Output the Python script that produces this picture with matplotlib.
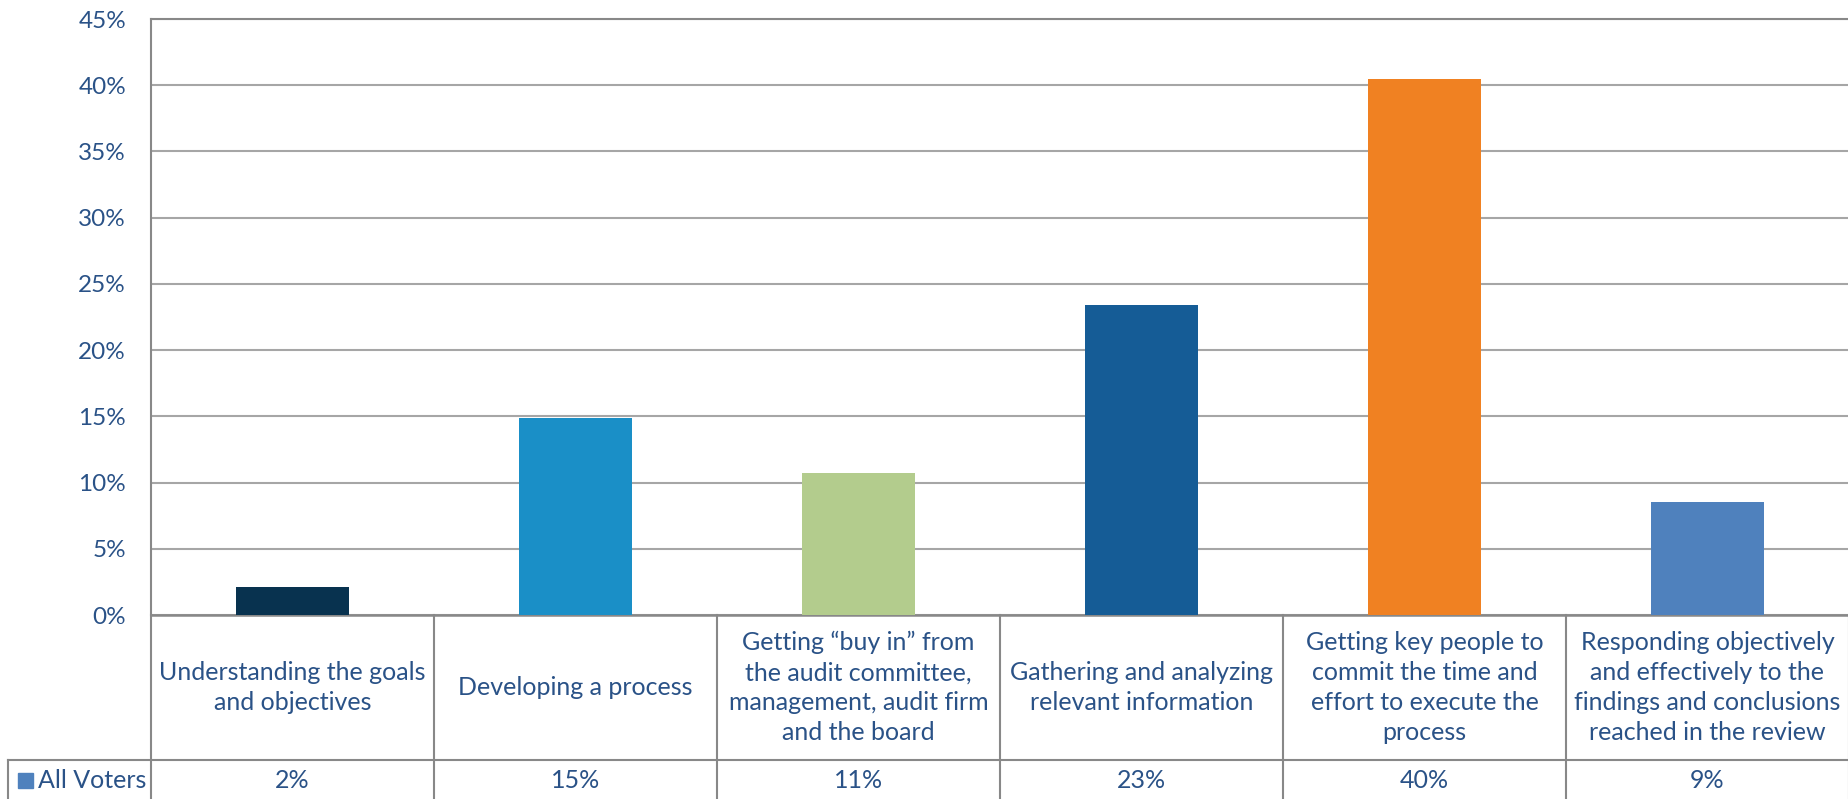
import numpy as np
import matplotlib
matplotlib.use("Agg")
import matplotlib.pyplot as plt
from matplotlib.patches import Rectangle

# data
categories = [
    "Understanding the goals\nand objectives",
    "Developing a process",
    "Getting \u201cbuy in\u201d from\nthe audit committee,\nmanagement, audit firm\nand the board",
    "Gathering and analyzing\nrelevant information",
    "Getting key people to\ncommit the time and\neffort to execute the\nprocess",
    "Responding objectively\nand effectively to the\nfindings and conclusions\nreached in the review",
]
values = [2.1, 14.9, 10.7, 23.4, 40.5, 8.5]
value_labels = ["2%", "15%", "11%", "23%", "40%", "9%"]
bar_colors = ["#08324F", "#1A8FC7", "#B3CC8D", "#155C96", "#F08122", "#4F81BD"]
series_name = "All Voters"
series_color = "#4F81BD"
yticks = [0, 5, 10, 15, 20, 25, 30, 35, 40, 45]

text_color = "#2A5287"
grid_color = "#A6A6A6"
axis_color = "#888888"
plt.rcParams['font.family'] = ['Lato', 'DejaVu Sans']

W, H = 1849, 799
fig = plt.figure(figsize=(W / 100, H / 100), dpi=100)

# pixel layout
left, right, top, zero = 151, 1849, 19, 615
hdr_bottom = 760

ax = fig.add_axes([left / W, (H - zero) / H, (right - left) / W, (zero - top) / H])
x = np.arange(len(values))
ax.bar(x, values, width=0.40, color=bar_colors, zorder=3)
ax.set_xlim(-0.5, len(values) - 0.5)
ax.set_ylim(0, 45)
ax.set_yticks(yticks)
ax.set_yticklabels([f"{t}%" for t in yticks], color=text_color, fontsize=17.5)
ax.tick_params(axis='y', length=0, pad=18)
ax.set_xticks([])
ax.yaxis.grid(True, color=grid_color, lw=1.5, zorder=0)
ax.set_axisbelow(True)
ax.spines["right"].set_visible(False)
for s in ["top", "left"]:
    ax.spines[s].set_color(axis_color)
    ax.spines[s].set_linewidth(1.5)
ax.spines["bottom"].set_color(axis_color)
ax.spines["bottom"].set_linewidth(1.8)

# data table under the chart
tab = fig.add_axes([left / W, 0, (right - left) / W, (H - zero) / H])
tab.set_xlim(-0.5, len(values) - 0.5)
tab.set_ylim(H - zero, 0)
tab.axis("off")
col_w = (right - left) / len(values)
leg_left = -0.5 - (left - 8) / col_w
hdr_y = hdr_bottom - zero
lc = dict(color=axis_color, lw=1.5, clip_on=False)
for b in np.arange(-0.5, len(values), 1.0):
    tab.plot([b, b], [0, H - zero], **lc)
tab.plot([leg_left, len(values) - 0.5], [hdr_y, hdr_y], **lc)
tab.plot([leg_left, leg_left], [hdr_y, H - zero], **lc)

for i, (cat, lab) in enumerate(zip(categories, value_labels)):
    tab.text(i, hdr_y / 2, cat, ha="center", va="center", color=text_color,
             fontsize=18, linespacing=1.36)
    tab.text(i, (hdr_y + H - zero) / 2 + 1, lab, ha="center", va="center",
             color=text_color, fontsize=18)

# legend key in the first table cell
sq = 15 / col_w
tab.add_patch(Rectangle((leg_left + 10 / col_w, 158), sq, 15, color=series_color, clip_on=False))
tab.text(leg_left + 30 / col_w, 165, series_name, ha="left", va="center",
         color=text_color, fontsize=18, clip_on=False)

fig.savefig("out.png", dpi=100)
